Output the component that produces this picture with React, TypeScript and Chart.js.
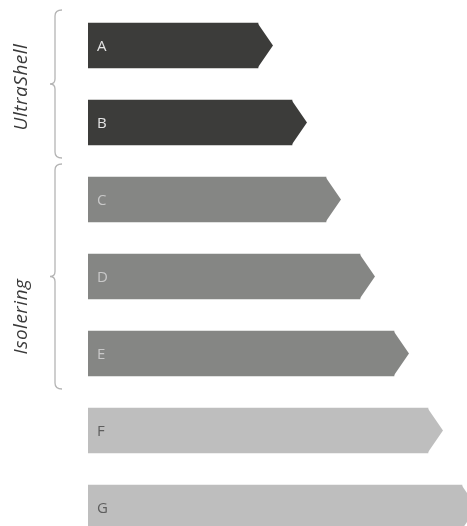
import React, { useEffect, useRef } from "react";
import { Chart, registerables } from "chart.js";

Chart.register(...registerables);

// ---- data ----
const categories = ["A", "B", "C", "D", "E", "F", "G"];
const values = [5, 6, 7, 8, 9, 10, 11];
const barColors = ["#3c3c3a", "#3c3c3a", "#858684", "#858684", "#858684", "#bebebe", "#bebebe"];
const letterColors = ["#e4e4e4", "#e4e4e4", "#c8c8c8", "#c8c8c8", "#c8c8c8", "#5e5e5e", "#5e5e5e"];
const groupLabels = ["UltraShell", "Isolering"];
const groupStart = [0, 2];
const groupEnd = [1, 4];

const TIP = 15;
const LABEL_SHIFT = [3, 40];

const decorPlugin = {
  id: "decor",
  afterDatasetsDraw(chart: any) {
    const ctx = chart.ctx as CanvasRenderingContext2D;
    const meta = chart.getDatasetMeta(0);
    const yScale = chart.scales.y;
    ctx.save();
    meta.data.forEach((el: any, i: number) => {
      const h = el.height;
      ctx.fillStyle = barColors[i];
      ctx.beginPath();
      ctx.moveTo(el.x - 0.5, el.y - h / 2);
      ctx.lineTo(el.x + TIP, el.y);
      ctx.lineTo(el.x - 0.5, el.y + h / 2);
      ctx.closePath();
      ctx.fill();
      ctx.fillStyle = letterColors[i];
      ctx.font = "15px 'Open Sans', 'DejaVu Sans', sans-serif";
      ctx.textBaseline = "middle";
      ctx.textAlign = "left";
      ctx.fillText(categories[i], el.base + 9, el.y + 1);
    });

    const band = yScale.getPixelForValue(1) - yScale.getPixelForValue(0);
    groupLabels.forEach((lab, g) => {
      const top = yScale.getPixelForValue(groupStart[g]) - band / 2 + 3;
      const bot = yScale.getPixelForValue(groupEnd[g]) + band / 2 - 3;
      const mid = (top + bot) / 2;
      const xl = 55;
      ctx.strokeStyle = "#b4b4b4";
      ctx.lineWidth = 1.3;
      ctx.beginPath();
      ctx.moveTo(62, top);
      ctx.quadraticCurveTo(xl, top, xl, top + 6);
      ctx.lineTo(xl, mid - 5);
      ctx.quadraticCurveTo(xl, mid, 50, mid);
      ctx.quadraticCurveTo(xl, mid, xl, mid + 5);
      ctx.lineTo(xl, bot - 6);
      ctx.quadraticCurveTo(xl, bot, 62, bot);
      ctx.stroke();

      ctx.save();
      ctx.translate(27, mid + LABEL_SHIFT[g]);
      ctx.rotate(-Math.PI / 2);
      ctx.fillStyle = "#3a3a3a";
      ctx.font = "italic 400 19px 'Open Sans', 'DejaVu Sans', sans-serif";
      (ctx as any).letterSpacing = "0.5px";
      ctx.textAlign = "center";
      ctx.textBaseline = "alphabetic";
      ctx.fillText(lab, 0, 0);
      ctx.restore();
    });
    ctx.restore();
  },
};

export default function App() {
  const ref = useRef<HTMLCanvasElement | null>(null);
  useEffect(() => {
    document.body.style.margin = "0";
    document.body.style.overflow = "hidden";
    document.documentElement.style.overflow = "hidden";
    if (!ref.current) return;
    const chart = new Chart(ref.current, {
      type: "bar",
      data: {
        labels: categories,
        datasets: [
          {
            data: values,
            backgroundColor: barColors,
            borderWidth: 0,
            barThickness: 45,
          },
        ],
      },
      options: {
        indexAxis: "y",
        responsive: false,
        animation: false,
        layout: { padding: { left: 88, right: 0, top: 7, bottom: 0 } },
        scales: {
          x: { type: "linear", min: 0, max: 12, display: false },
          y: { type: "category", display: false, offset: true },
        },
        plugins: { legend: { display: false }, tooltip: { enabled: false } },
      },
      plugins: [decorPlugin],
    } as any);
    return () => chart.destroy();
  }, []);
  return (
    <div style={{ width: 496, height: 546, overflow: "hidden" }}>
      <canvas ref={ref} width={496} height={546} />
    </div>
  );
}
